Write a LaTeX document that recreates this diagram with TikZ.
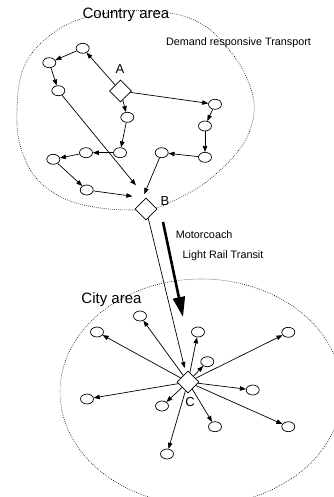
\documentclass[tikz,border=0pt]{standalone}
\usepackage{fontspec}
\setmainfont{Liberation Sans}
\usetikzlibrary{shapes.geometric,arrows.meta,calc}

\begin{document}
\begin{tikzpicture}[x=1pt,y=-1pt,
  stop/.style={ellipse,draw,fill=white,line width=0.7pt,minimum width=13pt,minimum height=10pt,inner sep=0pt},
  hub/.style={diamond,draw,fill=white,line width=0.7pt,minimum width=22pt,minimum height=22pt,inner sep=0pt},
  link/.style={line width=0.7pt,-{Triangle[length=6pt,width=4.5pt]}},
  zone/.style={line width=0.6pt,dash pattern=on 0.7pt off 1.3pt},
  areatxt/.style={font=\fontsize{15}{17}\selectfont,anchor=base,inner sep=0pt},
  hubtxt/.style={font=\fontsize{13}{15}\selectfont,anchor=base,inner sep=0pt},
  smalltxt/.style={font=\fontsize{10.8}{12}\selectfont,anchor=base,inner sep=0pt}
]
\useasboundingbox (0,0) rectangle (333,497);

% service areas
\draw[zone] plot[smooth cycle,tension=0.6] coordinates {
  (17,110) (22,72) (40,44) (75,21) (125,11) (175,14) (205,26) (225,45)
  (243,70) (254,102) (250,130) (235,155) (205,183) (175,200) (156,208)
  (135,210) (100,208) (65,199) (36,178) (20,145)};
\draw[zone] (201,392) ellipse [x radius=141, y radius=113];

% area labels
\node[areatxt] (country) at (126,19) {Country area};
\node[areatxt] (city) at (111.5,303.3) {City area};
\node[smalltxt] (drt) at (238.5,45.7) {Demand responsive Transport};
\node[smalltxt] (coach) at (204.2,238.3) {Motorcoach};
\node[smalltxt] (lrt) at (223,258.3) {Light Rail Transit};

% hubs
\node[hub] (A) at (120.5,91) {};
\node[hub] (B) at (146,209) {};
\node[hub] (C) at (188,382) {};
\node[hubtxt] (lA) at (120,74) {A};
\node[hubtxt] (lB) at (165,205) {B};
\node[hubtxt] (lC) at (190,406.7) {C};

% country stops
\node[stop] (n1) at (82.7,48.3) {};
\node[stop] (n2) at (49.3,62.7) {};
\node[stop] (n3) at (58.3,90.7) {};
\node[stop] (n4) at (127.3,117.3) {};
\node[stop] (n5) at (120,152.7) {};
\node[stop] (n6) at (86,152.7) {};
\node[stop] (n7) at (53.3,159.3) {};
\node[stop] (n8) at (86.7,190) {};
\node[stop] (n9) at (161.7,152.7) {};
\node[stop] (n10) at (205,157.3) {};
\node[stop] (n11) at (205,126) {};
\node[stop] (n12) at (215,104.3) {};

% city stops
\node[stop] (c1) at (140,316) {};
\node[stop] (c2) at (97,332) {};
\node[stop] (c3) at (198,332) {};
\node[stop] (c4) at (288.3,332.3) {};
\node[stop] (c5) at (207.3,361.7) {};
\node[stop] (c6) at (87,399) {};
\node[stop] (c7) at (252.7,390) {};
\node[stop] (c8) at (162,406) {};
\node[stop] (c9) at (215,426.7) {};
\node[stop] (c10) at (288.3,426.7) {};
\node[stop] (c11) at (167,454) {};

% demand responsive routes
\draw[link] (A) -- (n1);
\draw[link] (n1) -- (n2);
\draw[link] (n2) -- (n3);
\draw[link,shorten >=16pt] (n3) -- (B.north);
\draw[link] (A) -- (n4);
\draw[link] (n4) -- (n5);
\draw[link] (n5) -- (n6);
\draw[link] (n6) -- (n7);
\draw[link] (n7) -- (n8);
\draw[link,shorten >=8pt] (n8) -- ([yshift=6pt]B.north west);
\draw[link] (A) -- (n12);
\draw[link] (n12) -- (n11);
\draw[link] (n11) -- (n10);
\draw[link] (n10) -- (n9);
\draw[link,shorten >=10pt] (n9) -- (B.north west);

% trunk line and its direction arrow
\draw[link,shorten >=5pt] (B) -- (C);
\coordinate (trunkTop) at (163,222);
\coordinate (trunkTip) at (183,317);
\draw[line width=2.6pt,-{Triangle[length=20pt,width=12pt]}] (trunkTop) -- (trunkTip);

% city distribution
\foreach \s in {c1,c2,c3,c4,c5,c6,c7,c8,c9,c10,c11}
  \draw[link] (C) -- (\s);
\end{tikzpicture}
\end{document}
